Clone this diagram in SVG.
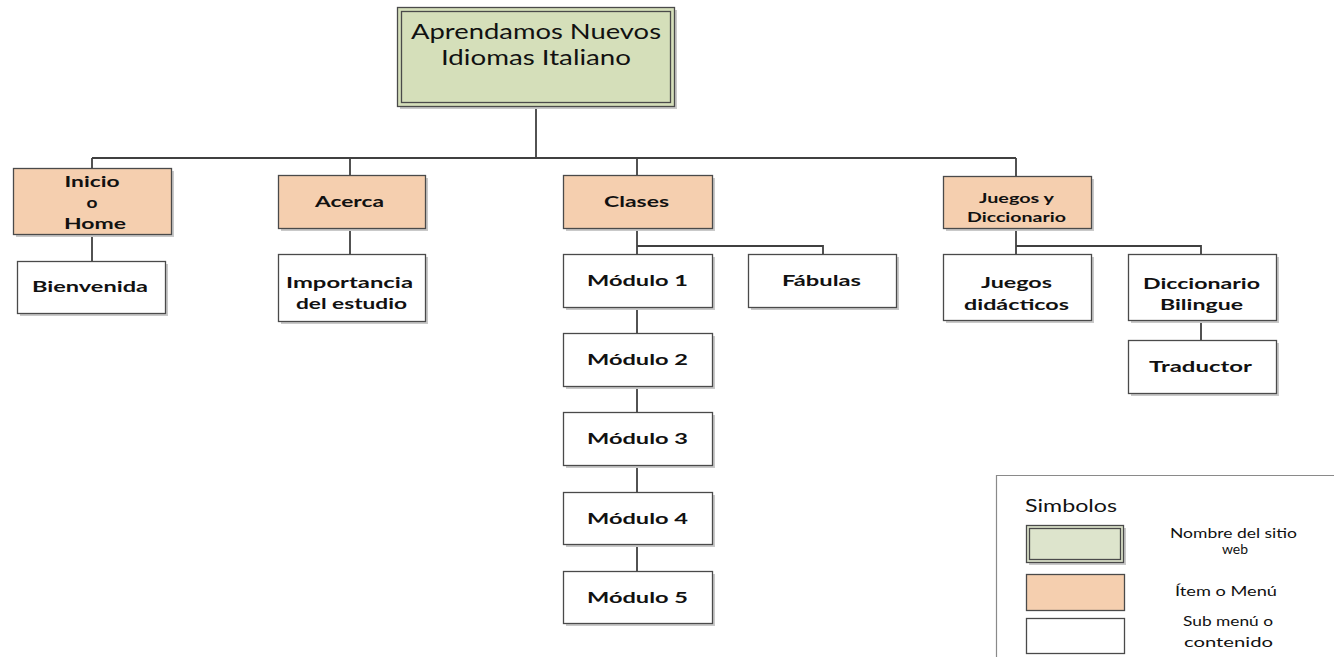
<svg xmlns="http://www.w3.org/2000/svg" width="1334" height="657" viewBox="0 0 1334 657">
<style>
.bg{fill:#ffffff}
.shadow{fill:#c9c9c9}
.box{stroke:#4a4a4a;stroke-width:1.3}
.root{fill:#d5dfba}
.menu{fill:#f5cfaf}
.sub{fill:#ffffff}
.lg{fill:#dde4cc}
.conn{fill:none;stroke:#404040;stroke-width:1.8}
.t{font-family:Lato,"Liberation Sans",sans-serif;font-weight:bold;font-size:16px;fill:#111;text-anchor:middle}
.ts{font-size:13px}
.tr{font-family:Lato,"Liberation Sans",sans-serif;font-size:22px;fill:#111;text-anchor:middle}
.tl{font-family:Lato,"Liberation Sans",sans-serif;font-size:13px;fill:#111;text-anchor:middle}
</style>
<rect class="bg" width="1334" height="657"/>

<g id="connectors">
<path class="conn" d="M536,107 V158 M92,158 H1016 M92,158 V168 M350,158 V175 M637,158 V175 M1016,158 V176"/>
<path class="conn" d="M92,234 V261 M350,228 V254"/>
<path class="conn" d="M637,228 V254 M637,246 H823 V254 M637,307 V333 M637,386 V412 M637,465 V492 M637,544 V571"/>
<path class="conn" d="M1016,228 V254 M1016,246 H1201 V254 M1201,320 V340"/>
</g>

<g id="root">
<rect class="shadow" x="400" y="10" width="277" height="99"/>
<rect class="box root" x="397.5" y="7.5" width="277" height="99"/>
<rect class="box root" x="401.5" y="11.5" width="269" height="91"/>
<text class="tr" x="536" y="39" textLength="250" lengthAdjust="spacingAndGlyphs">Aprendamos Nuevos</text>
<text class="tr" x="536" y="65" textLength="190" lengthAdjust="spacingAndGlyphs">Idiomas Italiano</text>
</g>

<g id="inicio">
<rect class="shadow" x="16" y="171" width="158" height="66"/>
<rect class="box menu" x="13.5" y="168.5" width="158" height="66"/>
<text class="t" x="92" y="187" textLength="55" lengthAdjust="spacingAndGlyphs">Inicio</text>
<text class="t" x="92" y="208" textLength="11" lengthAdjust="spacingAndGlyphs">o</text>
<text class="t" x="95" y="229" textLength="62" lengthAdjust="spacingAndGlyphs">Home</text>
</g>
<g id="bienvenida">
<rect class="shadow" x="20" y="264" width="148" height="52"/>
<rect class="box sub" x="17.5" y="261.5" width="148" height="52"/>
<text class="t" x="90" y="292" textLength="116" lengthAdjust="spacingAndGlyphs">Bienvenida</text>
</g>

<g id="acerca">
<rect class="shadow" x="281" y="178" width="147" height="53"/>
<rect class="box menu" x="278.5" y="175.5" width="147" height="53"/>
<text class="t" x="349.5" y="207" textLength="69" lengthAdjust="spacingAndGlyphs">Acerca</text>
</g>
<g id="importancia">
<rect class="shadow" x="281" y="257" width="147" height="67"/>
<rect class="box sub" x="278.5" y="254.5" width="147" height="67"/>
<text class="t" x="349.5" y="288" textLength="127" lengthAdjust="spacingAndGlyphs">Importancia</text>
<text class="t" x="351.5" y="309" textLength="111" lengthAdjust="spacingAndGlyphs">del estudio</text>
</g>

<g id="clases">
<rect class="shadow" x="566" y="178" width="149" height="53"/>
<rect class="box menu" x="563.5" y="175.5" width="149" height="53"/>
<text class="t" x="636.5" y="207" textLength="65" lengthAdjust="spacingAndGlyphs">Clases</text>
</g>
<g id="modulo1">
<rect class="shadow" x="566" y="257" width="149" height="53"/>
<rect class="box sub" x="563.5" y="254.5" width="149" height="53"/>
<text class="t" x="637.5" y="286" textLength="101" lengthAdjust="spacingAndGlyphs">Módulo 1</text>
</g>
<g id="fabulas">
<rect class="shadow" x="751" y="257" width="148" height="53"/>
<rect class="box sub" x="748.5" y="254.5" width="148" height="53"/>
<text class="t" x="821.5" y="286" textLength="79" lengthAdjust="spacingAndGlyphs">Fábulas</text>
</g>
<g id="modulo2">
<rect class="shadow" x="566" y="336" width="149" height="53"/>
<rect class="box sub" x="563.5" y="333.5" width="149" height="53"/>
<text class="t" x="637.5" y="365" textLength="101" lengthAdjust="spacingAndGlyphs">Módulo 2</text>
</g>
<g id="modulo3">
<rect class="shadow" x="566" y="415" width="149" height="53"/>
<rect class="box sub" x="563.5" y="412.5" width="149" height="53"/>
<text class="t" x="637.5" y="444" textLength="101" lengthAdjust="spacingAndGlyphs">Módulo 3</text>
</g>
<g id="modulo4">
<rect class="shadow" x="566" y="495" width="149" height="52"/>
<rect class="box sub" x="563.5" y="492.5" width="149" height="52"/>
<text class="t" x="637.5" y="523.5" textLength="101" lengthAdjust="spacingAndGlyphs">Módulo 4</text>
</g>
<g id="modulo5">
<rect class="shadow" x="566" y="574" width="149" height="52"/>
<rect class="box sub" x="563.5" y="571.5" width="149" height="52"/>
<text class="t" x="637.5" y="602.5" textLength="101" lengthAdjust="spacingAndGlyphs">Módulo 5</text>
</g>

<g id="juegos-diccionario">
<rect class="shadow" x="946" y="179" width="148" height="52"/>
<rect class="box menu" x="943.5" y="176.5" width="148" height="52"/>
<text class="t ts" x="1016.5" y="203" textLength="75" lengthAdjust="spacingAndGlyphs">Juegos y</text>
<text class="t ts" x="1016.5" y="222" textLength="99" lengthAdjust="spacingAndGlyphs">Diccionario</text>
</g>
<g id="juegos-didacticos">
<rect class="shadow" x="946" y="257" width="148" height="66"/>
<rect class="box sub" x="943.5" y="254.5" width="148" height="66"/>
<text class="t" x="1016.5" y="288" textLength="71" lengthAdjust="spacingAndGlyphs">Juegos</text>
<text class="t" x="1016.5" y="310" textLength="105" lengthAdjust="spacingAndGlyphs">didácticos</text>
</g>
<g id="diccionario-bilingue">
<rect class="shadow" x="1131" y="257" width="148" height="66"/>
<rect class="box sub" x="1128.5" y="254.5" width="148" height="66"/>
<text class="t" x="1201.5" y="289" textLength="117" lengthAdjust="spacingAndGlyphs">Diccionario</text>
<text class="t" x="1201.5" y="310" textLength="83" lengthAdjust="spacingAndGlyphs">Bilingue</text>
</g>
<g id="traductor">
<rect class="shadow" x="1131" y="343" width="148" height="53"/>
<rect class="box sub" x="1128.5" y="340.5" width="148" height="53"/>
<text class="t" x="1200.5" y="372" textLength="103" lengthAdjust="spacingAndGlyphs">Traductor</text>
</g>

<g id="legend">
<path d="M996.5,657 V475.5 H1334" fill="none" stroke="#8a8a8a" stroke-width="1.2"/>
<text x="1025" y="512" font-family="Lato,'Liberation Sans',sans-serif" font-size="17" fill="#111" textLength="92" lengthAdjust="spacingAndGlyphs">Simbolos</text>
<rect class="shadow" x="1029" y="528" width="97" height="37"/>
<rect class="box lg" x="1026.5" y="525.5" width="97" height="37"/>
<rect class="box lg" x="1029.5" y="528.5" width="91" height="31"/>
<text class="tl" x="1233.5" y="538" textLength="127" lengthAdjust="spacingAndGlyphs">Nombre del sitio</text>
<text class="tl" x="1235" y="554" textLength="26" lengthAdjust="spacingAndGlyphs">web</text>
<rect class="box menu" x="1026.5" y="574.5" width="98" height="36"/>
<text class="tl" x="1226" y="596" textLength="102" lengthAdjust="spacingAndGlyphs">Ítem o Menú</text>
<rect class="box sub" x="1026.5" y="618.5" width="98" height="35"/>
<text class="tl" x="1228" y="626" textLength="90" lengthAdjust="spacingAndGlyphs">Sub menú o</text>
<text class="tl" x="1228.5" y="647" textLength="89" lengthAdjust="spacingAndGlyphs">contenido</text>
</g>
</svg>
